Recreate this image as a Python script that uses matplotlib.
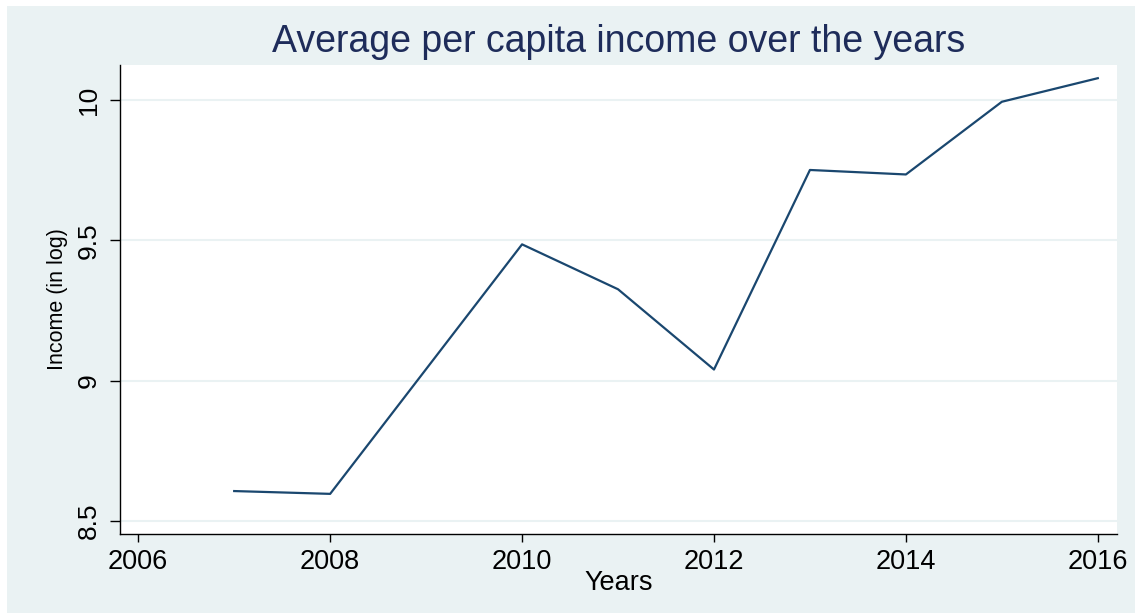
import matplotlib.pyplot as plt
from matplotlib.patches import Rectangle

# data
years = [2007, 2008, 2010, 2011, 2012, 2013, 2014, 2015, 2016]
income_log = [8.607, 8.597, 9.486, 9.326, 9.040, 9.751, 9.735, 9.994, 10.078]

x_ticks = [2006, 2008, 2010, 2012, 2014, 2016]
y_ticks = [8.5, 9, 9.5, 10]
y_tick_labels = ['8.5', '9', '9.5', '10']

plt.rcParams['font.family'] = ['Liberation Sans', 'DejaVu Sans']

W, H = 1135, 613
fig = plt.figure(figsize=(W / 100, H / 100), dpi=100, facecolor='white')
# stata-like light background band
fig.patches.append(Rectangle((7 / W, 0), 1 - 7 / W, 1 - 6 / H, transform=fig.transFigure,
                             facecolor='#eaf2f3', edgecolor='none', zorder=-10))

ax = fig.add_axes([120 / W, 79 / H, (1117 - 120) / W, (534 - 65) / H])
ax.set_facecolor('white')

ax.plot(years, income_log, color='#1a476f', lw=1.6, zorder=3)

ax.set_xlim(2005.81, 2016.2)
ax.set_ylim(8.454, 10.125)
ax.set_xticks(x_ticks)
ax.set_yticks(y_ticks)
ax.set_yticklabels(y_tick_labels, rotation=90, va='center')

ax.yaxis.grid(True, color='#eaf2f3', lw=1.5)
ax.set_axisbelow(True)

for s in ['top', 'right']:
    ax.spines[s].set_visible(False)
for s in ['left', 'bottom']:
    ax.spines[s].set_color('#000000')
    ax.spines[s].set_linewidth(1.0)

ax.tick_params(axis='x', length=6, width=1, pad=5, labelsize=19.5)
ax.tick_params(axis='y', length=7, width=1, pad=7, labelsize=19)

ax.set_xlabel('Years', fontsize=19.5, labelpad=-4)
ax.set_ylabel('Income (in log)', fontsize=15.5, labelpad=6)
ax.set_title('Average per capita income over the years', fontsize=27,
             color='#1e2c5a', pad=9)

fig.savefig('out.png', dpi=100)
